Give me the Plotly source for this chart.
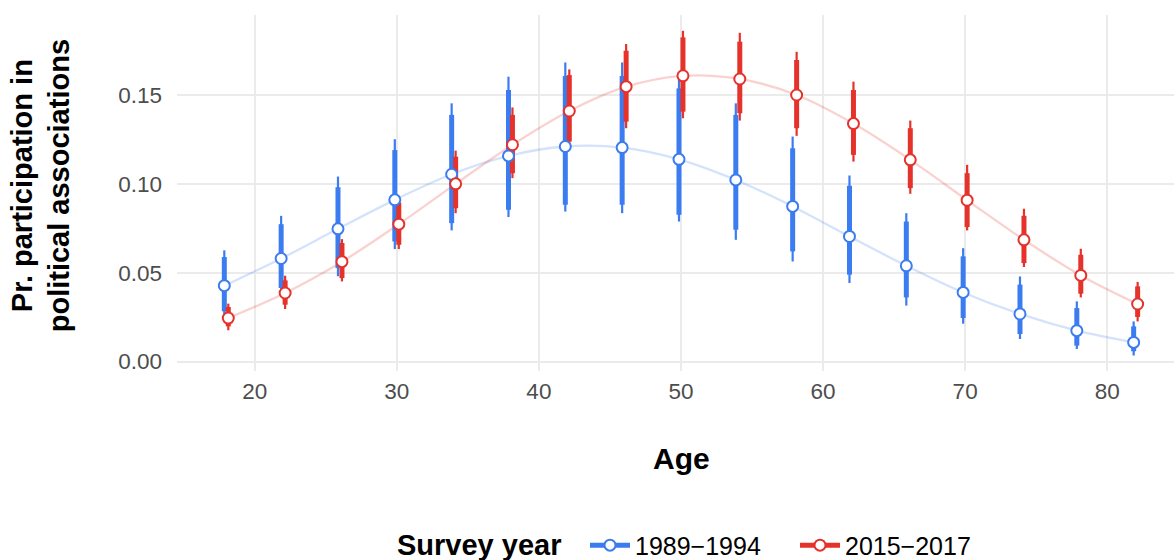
import plotly.graph_objects as go

ages = [18, 22, 26, 30, 34, 38, 42, 46, 50, 54, 58, 62, 66, 70, 74, 78, 82]

# 1989-1994
blue_mean = [0.0427, 0.0580, 0.0747, 0.0910, 0.1054, 0.1157, 0.1210, 0.1204, 0.1138,
             0.1022, 0.0873, 0.0704, 0.0539, 0.0389, 0.0268, 0.0174, 0.0108]
blue_hi95 = [0.0626, 0.0820, 0.1041, 0.1251, 0.1453, 0.1603, 0.1683, 0.1683, 0.1630,
             0.1453, 0.1266, 0.1047, 0.0835, 0.0638, 0.0479, 0.0339, 0.0226]
blue_hi66 = [0.0588, 0.0773, 0.0981, 0.1190, 0.1388, 0.1528, 0.1607, 0.1607, 0.1537,
             0.1388, 0.1200, 0.0989, 0.0788, 0.0592, 0.0433, 0.0301, 0.0198]
blue_lo66 = [0.0283, 0.0414, 0.0526, 0.0676, 0.0779, 0.0854, 0.0882, 0.0882, 0.0826,
             0.0742, 0.0620, 0.0489, 0.0361, 0.0245, 0.0155, 0.0090, 0.0058]
blue_lo95 = [0.0225, 0.0370, 0.0480, 0.0633, 0.0738, 0.0813, 0.0844, 0.0835, 0.0788,
             0.0685, 0.0563, 0.0442, 0.0315, 0.0213, 0.0127, 0.0071, 0.0034]

# 2015-2017
red_mean = [0.0245, 0.0386, 0.0562, 0.0773, 0.1000, 0.1220, 0.1410, 0.1547, 0.1608,
            0.1590, 0.1500, 0.1339, 0.1135, 0.0908, 0.0685, 0.0485, 0.0324]
red_hi95 = [0.0326, 0.0483, 0.0689, 0.0910, 0.1187, 0.1430, 0.1644, 0.1787, 0.1861,
            0.1850, 0.1743, 0.1575, 0.1356, 0.1107, 0.0860, 0.0635, 0.0448]
red_hi66 = [0.0307, 0.0457, 0.0667, 0.0895, 0.1153, 0.1388, 0.1612, 0.1749, 0.1824,
            0.1800, 0.1697, 0.1528, 0.1313, 0.1060, 0.0820, 0.0601, 0.0423]
red_lo66 = [0.0198, 0.0320, 0.0470, 0.0657, 0.0863, 0.1060, 0.1238, 0.1350, 0.1406,
            0.1397, 0.1313, 0.1163, 0.0976, 0.0757, 0.0554, 0.0382, 0.0251]
red_lo95 = [0.0176, 0.0296, 0.0451, 0.0633, 0.0835, 0.1032, 0.1219, 0.1313, 0.1369,
            0.1356, 0.1270, 0.1125, 0.0944, 0.0738, 0.0532, 0.0361, 0.0226]

x_ticks = [20, 30, 40, 50, 60, 70, 80]
y_ticks = [0.00, 0.05, 0.10, 0.15]
y_tick_labels = ["0.00", "0.05", "0.10", "0.15"]

BLUE = "#3b7cf0"
RED = "#e5322b"
BLUE_PALE = "rgba(59,124,240,0.22)"
RED_PALE = "rgba(229,50,43,0.22)"
FONT = "Liberation Sans, Arial, sans-serif"
DODGE = 0.14

series = [
    ("1989\u22121994", BLUE, BLUE_PALE, -DODGE, blue_mean, blue_lo95, blue_hi95, blue_lo66, blue_hi66),
    ("2015\u22122017", RED, RED_PALE, DODGE, red_mean, red_lo95, red_hi95, red_lo66, red_hi66),
]


def segs(xs, lo, hi):
    sx, sy = [], []
    for a, l, h in zip(xs, lo, hi):
        sx += [a, a, None]
        sy += [l, h, None]
    return sx, sy


fig = go.Figure()

# pale connecting lines
for name, col, pale, off, m, l95, h95, l66, h66 in series:
    xs = [a + off for a in ages]
    fig.add_trace(go.Scatter(x=xs, y=m, mode="lines", line=dict(color=pale, width=2.3, shape="spline"),
                             showlegend=False, hoverinfo="skip"))

# intervals
for name, col, pale, off, m, l95, h95, l66, h66 in series:
    xs = [a + off for a in ages]
    sx, sy = segs(xs, l95, h95)
    fig.add_trace(go.Scatter(x=sx, y=sy, mode="lines", line=dict(color=col, width=2.2),
                             showlegend=False, hoverinfo="skip"))
    sx, sy = segs(xs, l66, h66)
    fig.add_trace(go.Scatter(x=sx, y=sy, mode="lines", line=dict(color=col, width=5),
                             showlegend=False, hoverinfo="skip"))

# points
for name, col, pale, off, m, l95, h95, l66, h66 in series:
    xs = [a + off for a in ages]
    fig.add_trace(go.Scatter(x=xs, y=m, mode="markers",
                             marker=dict(symbol="circle", size=11, color="white",
                                         line=dict(color=col, width=2)),
                             showlegend=False))

# legend entries
for name, col, pale, off, m, l95, h95, l66, h66 in series:
    fig.add_trace(go.Scatter(x=[None], y=[None], mode="lines+markers", name=name,
                             line=dict(color=col, width=5),
                             marker=dict(symbol="circle", size=11, color="white",
                                         line=dict(color=col, width=2))))

PLOT_L, PLOT_W = 177, 997

fig.update_layout(
    width=1174, height=560,
    margin=dict(l=177, r=0, t=15, b=189, autoexpand=False),
    paper_bgcolor="white", plot_bgcolor="white",
    font=dict(family=FONT, size=22, color="#4d4d4d"),
    showlegend=True,
    legend=dict(orientation="h", x=(585 - PLOT_L) / PLOT_W, xanchor="left", y=-0.49, yanchor="middle",
                font=dict(size=25, color="black", family=FONT),
                itemwidth=40, entrywidth=155, tracegroupgap=0),
    xaxis=dict(range=[14.53, 84.7], tickvals=x_ticks, ticktext=[str(t) for t in x_ticks],
               showgrid=True, gridcolor="#ebebeb", gridwidth=2.2, zeroline=False,
               showline=False, ticks="", tickfont=dict(size=22.5, color="#4d4d4d"),
               ticklabelstandoff=4),
    yaxis=dict(range=[-0.0053, 0.195], tickvals=y_ticks, ticktext=y_tick_labels,
               showgrid=True, gridcolor="#ebebeb", gridwidth=2.2, zeroline=False,
               showline=False, ticks="", tickfont=dict(size=22.5, color="#4d4d4d"),
               ticklabelstandoff=14),
    annotations=[
        dict(text="<b>Age</b>", xref="paper", yref="paper", x=0.506, y=-0.245,
             xanchor="center", yanchor="middle", showarrow=False,
             font=dict(size=30, color="black", family=FONT)),
        dict(text="<b>Pr. participation in<br>political associations</b>", xref="paper", yref="paper",
             x=-0.137, y=0.52, xanchor="center", yanchor="middle", showarrow=False, textangle=-90,
             font=dict(size=29, color="black", family=FONT)),
        dict(text="<b>Survey year</b>", xref="paper", yref="paper", x=(563 - PLOT_L) / PLOT_W, y=-0.49,
             xanchor="right", yanchor="middle", showarrow=False,
             font=dict(size=29, color="black", family=FONT)),
    ],
)

fig.write_html("out.html")
